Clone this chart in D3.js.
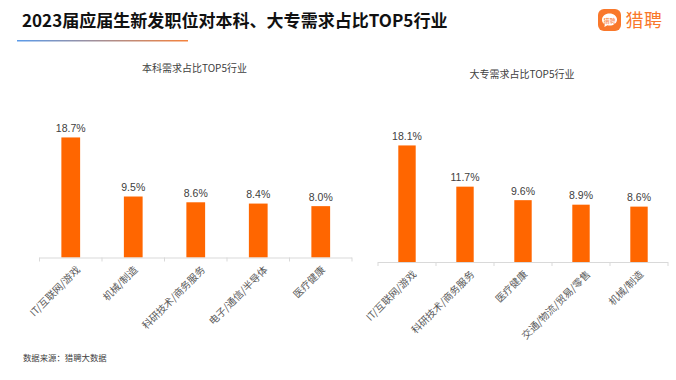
<!DOCTYPE html>
<html>
<head>
<meta charset="utf-8">
<script src="https://cdn.jsdelivr.net/npm/d3@7"></script>
<style>
  html, body { margin: 0; padding: 0; background: #fff; }
  svg { display: block; }
  text { font-family: "Noto Sans CJK SC", "Liberation Sans", sans-serif; }
</style>
</head>
<body>
<svg id="chart"></svg>
<script>
const titleText = "2023届应届生新发职位对本科、大专需求占比TOP5行业";
const sourceText = "数据来源：猎聘大数据";
const logoText = "猎聘";

const leftTitle = "本科需求占比TOP5行业";
const leftCategories = ["IT/互联网/游戏", "机械/制造", "科研技术/商务服务", "电子/通信/半导体", "医疗健康"];
const leftValues = [18.7, 9.5, 8.6, 8.4, 8.0];

const rightTitle = "大专需求占比TOP5行业";
const rightCategories = ["IT/互联网/游戏", "科研技术/商务服务", "医疗健康", "交通/物流/贸易/零售", "机械/制造"];
const rightValues = [18.1, 11.7, 9.6, 8.9, 8.6];

const colorBar = "#ff6600";
const svg = d3.select("#chart").attr("width", 676).attr("height", 380);

// header
svg.append("text")
    .attr("x", 22)
    .attr("y", 26.5)
    .attr("font-size", 17.05)
    .attr("font-weight", 700)
    .attr("fill", "#111")
    .text(titleText);

const grad = svg.append("defs").append("linearGradient").attr("id", "rule");
grad.append("stop").attr("offset", "0%").attr("stop-color", "#5b9bea");
grad.append("stop").attr("offset", "100%").attr("stop-color", "#f5823c");
svg.append("rect")
    .attr("x", 17).attr("y", 40)
    .attr("width", 171).attr("height", 1.5)
    .attr("fill", "url(#rule)");

// logo
const logo = svg.append("g").attr("transform", "translate(598,9)");
logo.append("rect")
    .attr("width", 23).attr("height", 22).attr("rx", 6)
    .attr("fill", "#f9782b");
logo.append("path")
    .attr("d", "M11.5 4.5c-4.2 0-7.5 2.7-7.5 6.2 0 2 1 3.600 2.800 4.700l-.4 2.600 3-1.700c.7.100 1.400.200 2.100.200 4.200 0 7.500-2.700 7.500-6.100 0-3.200-3.300-5.900-7.500-5.900z")
    .attr("fill", "#fff");
logo.append("text")
    .attr("x", 11.5).attr("y", 14)
    .attr("text-anchor", "middle")
    .attr("font-size", 6)
    .attr("fill", "#f9782b")
    .text(logoText);
svg.append("text")
    .attr("x", 625.5)
    .attr("y", 27)
    .attr("font-size", 18)
    .attr("font-weight", 400)
    .attr("letter-spacing", 0.5)
    .attr("fill", "#f9782b")
    .text(logoText);

function drawPanel(opts) {
    const x = d3.scaleBand()
        .domain(opts.categories)
        .range([opts.x0, opts.x1])
        .paddingInner(opts.pad)
        .paddingOuter(opts.pad / 2);

    const y = d3.scaleLinear()
        .domain([0, 20])
        .range([opts.baseline, opts.baseline - 20 * opts.pxPerPct]);

    svg.append("text")
        .attr("x", opts.titleX)
        .attr("y", opts.titleY)
        .attr("text-anchor", "middle")
        .attr("font-size", 10)
        .attr("fill", "#404040")
        .text(opts.title);

    const g = svg.append("g");

    g.selectAll(".bar")
        .data(opts.values)
        .enter()
        .append("rect")
        .attr("class", "bar")
        .attr("x", (d, i) => x(opts.categories[i]))
        .attr("y", d => y(d))
        .attr("width", x.bandwidth())
        .attr("height", d => y(0) - y(d))
        .attr("fill", colorBar);

    g.selectAll(".val")
        .data(opts.values)
        .enter()
        .append("text")
        .attr("class", "val")
        .attr("x", (d, i) => x(opts.categories[i]) + x.bandwidth() / 2)
        .attr("y", d => y(d) - 5.5)
        .attr("text-anchor", "middle")
        .style("font-family", "'Liberation Sans', sans-serif")
        .attr("font-size", 10.5)
        .attr("fill", "#404040")
        .text(d => d.toFixed(1) + "%");

    // axis with ticks between the categories
    const step = (opts.x1 - opts.x0) / opts.categories.length;
    const axisColor = "#d9d9d9";
    g.append("line")
        .attr("x1", opts.x0).attr("x2", opts.x1)
        .attr("y1", y(0) + 0.5).attr("y2", y(0) + 0.5)
        .attr("stroke", axisColor);
    g.selectAll(".tick")
        .data(d3.range(opts.categories.length + 1))
        .enter()
        .append("line")
        .attr("class", "tick")
        .attr("x1", i => opts.x0 + i * step)
        .attr("x2", i => opts.x0 + i * step)
        .attr("y1", y(0))
        .attr("y2", y(0) + 4)
        .attr("stroke", axisColor);

    // longer labels sit further right of their bar in the original
    const labelShift = d => d.length > 5 ? 10 : 5;

    g.selectAll(".cat")
        .data(opts.categories)
        .enter()
        .append("text")
        .attr("class", "cat")
        .attr("transform", d => `translate(${x(d) + x.bandwidth() / 2 + labelShift(d)},${y(0) + 13}) rotate(-45)`)
        .attr("text-anchor", "end")
        .attr("font-size", 10)
        .attr("fill", "#595959")
        .text(d => d);
}

drawPanel({
    title: leftTitle, categories: leftCategories, values: leftValues,
    x0: 39.5, x1: 352, baseline: 257.5, pxPerPct: 6.42, pad: 0.7, titleX: 194.5, titleY: 72
});
drawPanel({
    title: rightTitle, categories: rightCategories, values: rightValues,
    x0: 378, x1: 668, baseline: 262, pxPerPct: 6.44, pad: 0.7, titleX: 522, titleY: 78
});

svg.append("text")
    .attr("x", 23)
    .attr("y", 361)
    .attr("font-size", 8.4)
    .attr("fill", "#404040")
    .text(sourceText);
</script>
</body>
</html>
